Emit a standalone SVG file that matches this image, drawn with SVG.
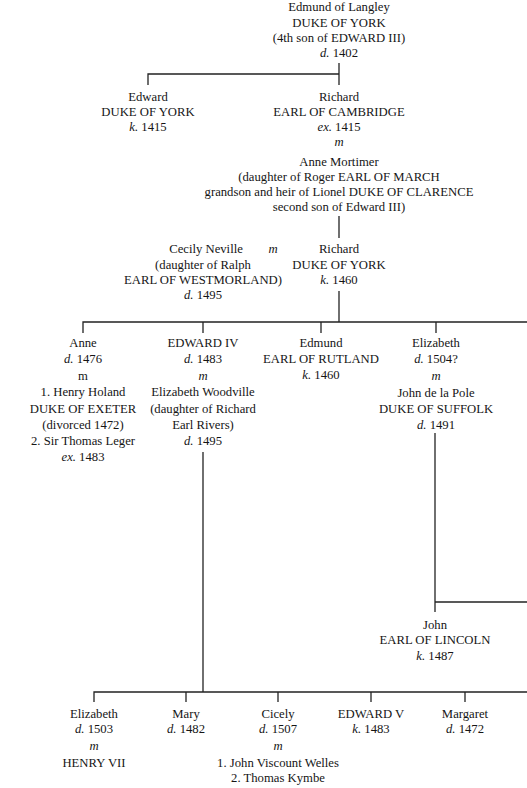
<svg xmlns="http://www.w3.org/2000/svg" width="527" height="788" viewBox="0 0 527 788">
<style>
text{font-family:"Liberation Serif","Times New Roman",serif;font-size:12.7px;fill:#151515;text-anchor:middle}
.i{font-style:italic}
.c line,.c polyline{stroke:#222;stroke-width:1.3;fill:none}
</style>
<rect width="527" height="788" fill="#fff"/>
<g class="c" id="connectors">
<line x1="339" y1="63" x2="339" y2="85"/>
<polyline points="148,85 148,74 339,74"/>
<line x1="339" y1="216" x2="339" y2="238"/>
<line x1="339" y1="291" x2="339" y2="322"/>
<polyline points="83,333 83,322 527,322"/>
<line x1="203" y1="322" x2="203" y2="333"/>
<line x1="321" y1="322" x2="321" y2="333"/>
<line x1="436" y1="322" x2="436" y2="333"/>
<line x1="435" y1="433" x2="435" y2="612"/>
<line x1="435" y1="602" x2="527" y2="602"/>
<line x1="203" y1="452" x2="203" y2="692"/>
<polyline points="94,702 94,692 527,692"/>
<line x1="186" y1="692" x2="186" y2="702"/>
<line x1="278" y1="692" x2="278" y2="702"/>
<line x1="371" y1="692" x2="371" y2="702"/>
<line x1="465" y1="692" x2="465" y2="702"/>
</g>
<g id="edmund-langley">
<text x="339" y="11">Edmund of Langley</text>
<text x="339" y="27">DUKE OF YORK</text>
<text x="339" y="42">(4th son of EDWARD III)</text>
<text x="339" y="57"><tspan class="i">d.</tspan> 1402</text>
</g>
<g id="edward-york">
<text x="148" y="101">Edward</text>
<text x="148" y="116">DUKE OF YORK</text>
<text x="148" y="131"><tspan class="i">k.</tspan> 1415</text>
</g>
<g id="richard-cambridge">
<text x="339" y="101">Richard</text>
<text x="339" y="116">EARL OF CAMBRIDGE</text>
<text x="339" y="131"><tspan class="i">ex.</tspan> 1415</text>
<text x="339" y="146" class="i">m</text>
</g>
<g id="anne-mortimer">
<text x="339" y="166">Anne Mortimer</text>
<text x="339" y="181">(daughter of Roger EARL OF MARCH</text>
<text x="339" y="196">grandson and heir of Lionel DUKE OF CLARENCE</text>
<text x="339" y="211">second son of Edward III)</text>
</g>
<g id="cecily-neville">
<text x="206" y="253">Cecily Neville</text>
<text x="203" y="269">(daughter of Ralph</text>
<text x="203" y="284">EARL OF WESTMORLAND)</text>
<text x="203" y="299"><tspan class="i">d.</tspan> 1495</text>
<text x="273" y="253" class="i">m</text>
</g>
<g id="richard-york">
<text x="339" y="253">Richard</text>
<text x="339" y="269">DUKE OF YORK</text>
<text x="339" y="284"><tspan class="i">k.</tspan> 1460</text>
</g>
<g id="anne">
<text x="83" y="347">Anne</text>
<text x="83" y="363"><tspan class="i">d.</tspan> 1476</text>
<text x="83" y="380">m</text>
<text x="83" y="396">1. Henry Holand</text>
<text x="83" y="413">DUKE OF EXETER</text>
<text x="83" y="429">(divorced 1472)</text>
<text x="83" y="445">2. Sir Thomas Leger</text>
<text x="83" y="461"><tspan class="i">ex.</tspan> 1483</text>
</g>
<g id="edward-iv">
<text x="203" y="347">EDWARD IV</text>
<text x="203" y="363"><tspan class="i">d.</tspan> 1483</text>
<text x="203" y="380" class="i">m</text>
<text x="203" y="396">Elizabeth Woodville</text>
<text x="203" y="413">(daughter of Richard</text>
<text x="203" y="429">Earl Rivers)</text>
<text x="203" y="445"><tspan class="i">d.</tspan> 1495</text>
</g>
<g id="edmund-rutland">
<text x="321" y="347">Edmund</text>
<text x="321" y="363">EARL OF RUTLAND</text>
<text x="321" y="379"><tspan class="i">k.</tspan> 1460</text>
</g>
<g id="elizabeth-suffolk">
<text x="436" y="347">Elizabeth</text>
<text x="436" y="363"><tspan class="i">d.</tspan> 1504?</text>
<text x="436" y="380" class="i">m</text>
<text x="436" y="397">John de la Pole</text>
<text x="436" y="413">DUKE OF SUFFOLK</text>
<text x="436" y="429"><tspan class="i">d.</tspan> 1491</text>
</g>
<g id="john-lincoln">
<text x="435" y="629">John</text>
<text x="435" y="644">EARL OF LINCOLN</text>
<text x="435" y="660"><tspan class="i">k.</tspan> 1487</text>
</g>
<g id="elizabeth-york">
<text x="94" y="718">Elizabeth</text>
<text x="94" y="733"><tspan class="i">d.</tspan> 1503</text>
<text x="94" y="750" class="i">m</text>
<text x="94" y="767">HENRY VII</text>
</g>
<g id="mary">
<text x="186" y="718">Mary</text>
<text x="186" y="733"><tspan class="i">d.</tspan> 1482</text>
</g>
<g id="cicely">
<text x="278" y="718">Cicely</text>
<text x="278" y="733"><tspan class="i">d.</tspan> 1507</text>
<text x="278" y="750" class="i">m</text>
<text x="278" y="767">1. John Viscount Welles</text>
<text x="278" y="782">2. Thomas Kymbe</text>
</g>
<g id="edward-v">
<text x="371" y="718">EDWARD V</text>
<text x="371" y="733"><tspan class="i">k.</tspan> 1483</text>
</g>
<g id="margaret">
<text x="465" y="718">Margaret</text>
<text x="465" y="733"><tspan class="i">d.</tspan> 1472</text>
</g>
</svg>
